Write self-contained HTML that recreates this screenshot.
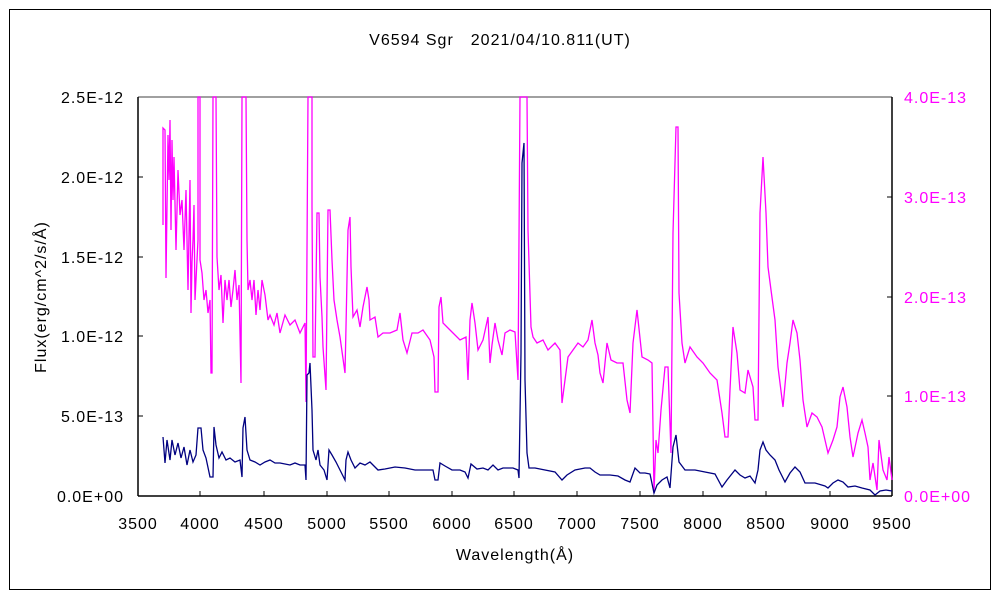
<!DOCTYPE html>
<html><head><meta charset="utf-8"><style>
body{margin:0;background:#fff;}
svg text{font-family:"Liberation Sans","Noto Sans CJK JP",sans-serif;font-size:16px;letter-spacing:1px;}
</style></head><body>
<svg width="1000" height="600" xmlns="http://www.w3.org/2000/svg">
<rect x="0" y="0" width="1000" height="600" fill="#fff"/>
<rect x="9.5" y="9.5" width="981" height="580" fill="none" stroke="#000" stroke-width="1"/>
<text x="500" y="45" text-anchor="middle">V6594 Sgr　2021/04/10.811(UT)</text>
<line x1="138" y1="97" x2="892" y2="97" stroke="#808080" stroke-width="1.5"/>
<line x1="138" y1="97" x2="138" y2="496" stroke="#000" stroke-width="1.5"/>
<line x1="892" y1="97" x2="892" y2="496" stroke="#000" stroke-width="1.5"/>
<line x1="138" y1="496" x2="892" y2="496" stroke="#000" stroke-width="1.5"/>
<g stroke="#000" stroke-width="1">
<line x1="138" y1="177" x2="143" y2="177"/><line x1="138" y1="257" x2="143" y2="257"/><line x1="138" y1="336" x2="143" y2="336"/><line x1="138" y1="416" x2="143" y2="416"/>
<line x1="887" y1="197" x2="892" y2="197"/><line x1="887" y1="297" x2="892" y2="297"/><line x1="887" y1="396" x2="892" y2="396"/>
<line x1="200" y1="491" x2="200" y2="496"/><line x1="264" y1="491" x2="264" y2="496"/><line x1="327" y1="491" x2="327" y2="496"/><line x1="389" y1="491" x2="389" y2="496"/><line x1="452" y1="491" x2="452" y2="496"/><line x1="514" y1="491" x2="514" y2="496"/><line x1="577" y1="491" x2="577" y2="496"/><line x1="640" y1="491" x2="640" y2="496"/><line x1="703" y1="491" x2="703" y2="496"/><line x1="766" y1="491" x2="766" y2="496"/><line x1="830" y1="491" x2="830" y2="496"/>
</g>
<g text-anchor="end">
<text x="124" y="103">2.5E-12</text><text x="124" y="183">2.0E-12</text><text x="124" y="263">1.5E-12</text><text x="124" y="342">1.0E-12</text><text x="124" y="422">5.0E-13</text><text x="124" y="502">0.0E+00</text>
</g>
<g fill="#ff00ff">
<text x="904" y="103">4.0E-13</text><text x="904" y="203">3.0E-13</text><text x="904" y="303">2.0E-13</text><text x="904" y="402">1.0E-13</text><text x="904" y="502">0.0E+00</text>
</g>
<g text-anchor="middle">
<text x="138" y="529">3500</text><text x="200" y="529">4000</text><text x="264" y="529">4500</text><text x="327" y="529">5000</text><text x="389" y="529">5500</text><text x="452" y="529">6000</text><text x="514" y="529">6500</text><text x="577" y="529">7000</text><text x="640" y="529">7500</text><text x="703" y="529">8000</text><text x="766" y="529">8500</text><text x="830" y="529">9000</text><text x="892" y="529">9500</text>
<text x="515" y="560">Wavelength(Å)</text>
<text transform="translate(46,297) rotate(-90)">Flux(erg/cm^2/s/Å)</text>
</g>
<polyline fill="none" stroke="#ff00ff" stroke-width="1.3" points="163,225 163,128 165,130 166,278 168,135 169,180 170,120 171,230 172,140 173,200 174,157 176,250 178,170 180,215 182,200 184,250 186,190 188,290 190,180 191,313 192,262 193,240 194,205 195,300 196,280 198,240 198,97 200,97 200,260 202,273 204,300 206,290 208,313 210,300 211,373 212,373 213,97 216,97 217,257 219,290 221,275 223,323 225,280 227,300 229,280 231,307 233,290 235,270 237,300 239,285 241,383 242,97 246,97 247,240 248,290 250,280 252,300 254,280 256,315 258,290 260,310 262,280 265,295 268,320 270,315 274,325 277,313 280,333 285,315 290,325 295,320 300,333 305,323 306,402 308,97 312,97 312,207 313,357 315,357 317,213 319,213 320,277 322,317 323,347 326,390 328,210 330,210 332,260 334,300 337,320 340,337 345,373 346,327 348,230 350,217 351,267 353,317 357,310 360,327 363,307 367,287 369,300 370,320 375,317 378,337 383,333 390,333 397,330 400,313 403,340 407,353 412,333 418,333 423,330 430,340 434,357 435,392 438,392 439,307 441,297 443,323 447,327 453,333 460,340 466,337 468,380 470,320 472,303 475,323 478,350 483,340 488,317 490,363 492,345 495,323 498,340 502,355 505,333 510,330 515,332 518,380 520,97 527,97 528,230 531,327 533,337 537,343 543,340 548,350 555,343 560,350 562,403 565,380 568,357 573,350 578,343 583,347 588,340 592,320 595,343 598,355 600,373 603,383 607,343 611,360 617,363 623,363 627,400 630,413 633,343 637,310 642,357 648,360 652,363 654,493 656,440 658,453 661,410 665,367 668,367 671,453 673,233 676,127 678,127 679,293 682,343 685,363 690,347 697,357 703,363 710,373 717,380 722,413 725,437 728,437 730,390 733,327 737,353 740,390 745,393 748,370 753,387 755,420 758,420 760,213 763,157 766,213 768,267 771,290 775,320 778,367 783,407 787,363 790,343 793,320 797,333 800,360 803,400 807,427 812,413 817,417 822,427 825,440 828,453 833,440 837,427 840,397 843,387 847,407 850,437 853,457 858,433 862,420 865,433 868,447 870,480 873,463 877,490 879,440 883,470 887,480 889,457 892,480"/>
<polyline fill="none" stroke="#000080" stroke-width="1.3" points="163,437 165,463 167,440 170,460 172,440 175,455 178,443 181,458 184,447 187,465 190,450 193,462 196,455 198,428 201,428 203,450 206,458 210,477 213,477 214,427 216,445 219,458 222,452 226,460 230,458 235,462 240,460 242,477 243,428 245,417 247,450 250,460 255,462 260,465 265,462 270,460 275,463 280,463 290,465 295,463 300,465 305,465 306,480 307,375 309,373 310,363 312,410 313,450 316,460 318,450 320,465 324,470 327,480 329,450 332,455 336,462 340,470 345,480 346,460 348,452 351,460 355,468 360,463 365,465 370,462 378,470 385,469 395,467 405,468 415,470 425,470 433,470 435,480 438,480 440,463 445,466 452,470 460,470 465,472 468,478 471,464 477,469 483,468 488,470 493,465 498,470 503,468 508,468 513,468 518,470 519,478 521,353 522,163 524,143 525,380 527,453 529,468 535,468 545,470 555,472 562,480 567,475 575,470 585,468 590,468 595,472 600,475 610,475 618,476 625,480 630,482 635,468 640,473 645,473 650,474 654,493 657,485 662,480 667,477 670,488 673,447 676,435 679,462 685,470 695,470 705,472 715,474 722,487 727,480 735,470 740,475 745,478 750,476 755,483 758,470 760,450 763,442 766,450 770,455 775,460 779,470 785,482 790,473 795,467 800,472 805,483 815,483 825,486 828,488 833,483 838,480 843,482 848,487 855,486 862,488 870,490 875,495 880,491 886,490 892,491"/>
</svg>
</body></html>
